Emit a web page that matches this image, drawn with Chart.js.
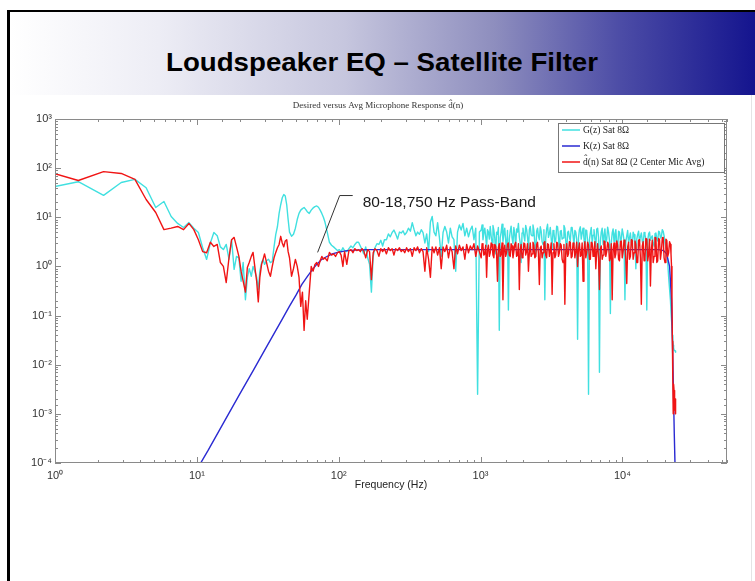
<!DOCTYPE html>
<html><head><meta charset="utf-8">
<script src="https://cdn.jsdelivr.net/npm/chart.js@4.4.0/dist/chart.umd.min.js"></script>
<style>
html,body{margin:0;padding:0;background:#fff;}
#page{position:relative;width:755px;height:581px;overflow:hidden;background:#fff;}
#lb{position:absolute;left:7px;top:10px;width:3px;height:571px;background:#000;}
#tb{position:absolute;left:7px;top:10px;width:748px;height:2px;background:#000;}
#band{position:absolute;left:10px;top:12px;width:745px;height:83px;
 background:linear-gradient(to right,#ffffff 0%,#ededf5 20%,#c6c6de 45%,#8e8ebe 65%,#4c4ca6 82%,#14148e 100%);}
#rl{position:absolute;left:751px;top:95px;width:1px;height:486px;background:#e4e4e4;}
#title{position:absolute;left:10px;top:47px;width:745px;line-height:30px;text-align:center;
 font:bold 26px "Liberation Sans",Arial,sans-serif;color:#000;white-space:nowrap;}
#title span{display:inline-block;transform:scaleX(1.064);}
canvas{position:absolute;left:0;top:0;}
</style></head>
<body><div id="page">
<div id="band"></div><div id="lb"></div><div id="tb"></div><div id="rl"></div>
<div id="title"><span>Loudspeaker EQ – Satellite Filter</span></div>
<canvas id="c" width="755" height="581"></canvas>
</div>
<script>
// ---- data ----
const lowFreq=[0.73,1.46,2.2,2.93,3.66,4.39,5.13,5.86,6.59,7.32,
 8.06,8.79,9.52,10.25,10.99,11.72,12.45,13.18,13.92,14.65,
 15.38,16.11,16.85,17.58,18.31,19.04,19.78,20.5,21.2,22.0,
 22.7,23.4,24.2,24.9,25.6,26.4,27.1,27.8,28.6,29.3,
 30,31,32,33,34,35,36,37,38,39,
 40,41,42,43,44,45,46.5,48,49.5,51,
 52.5,54,55.5,57,58.5,60,62,64,66,68,
 70,72,74,76,78,80,83,86,89,92,
 95,98];
const lowD=[100,56,85,78,59,23,12.5,5.6,6.0,6.5,
 5.6,7.5,5.6,3.5,2.0,1.9,3.1,2.55,2.8,1.2,
 1.0,0.47,1.5,3.5,3.9,2.5,1.6,0.8,0.5,0.30,
 0.95,1.2,1.6,1.93,1.0,0.5,0.19,0.6,1.1,1.39,
 1.8,1.2,0.8,0.63,1.0,1.5,1.93,2.4,2.8,4.1,
 3.0,2.5,3.3,3.5,2.0,1.5,0.63,0.9,1.39,1.0,
 0.6,0.154,0.3,0.05,0.2,0.084,0.3,1.0,0.8,1.1,
 1.2,1.0,1.3,1.6,1.4,1.5,1.3,1.93,1.7,1.8,
 1.6,1.9];
const lowG=[35,53,28,51,59,40,15.8,21,10.4,7.5,
 6.2,7.8,6.0,4.9,2.4,1.39,3.0,4.9,4.2,2.5,
 2.2,2.8,1.4,3.5,0.87,1.6,1.5,0.5,1.2,0.21,
 0.6,0.9,0.63,1.0,0.8,0.6,0.34,0.8,1.2,1.39,
 1.1,1.3,1.4,1.2,1.26,2.5,4.5,6.5,12,18,
 25,29,27,18,9,5,4.1,4.5,6,9,
 12,14,15,15.8,14.5,13,12,14,15.5,16.5,
 17,16,14,12,10,8,5,3.1,2.7,2.5,
 2.3,2.1];
const midFreq=[101,104,107,110,114,118,122,126,130,134,
 138,142,146,150,155,160,165,170,175,180,
 186,192,198,204,210,217,224,231,238,245,
 252,260,268,276,284,292,301,310,320,330,
 340,350,360,371,382,393,405,417,430,443,
 456,470,484,498,513,528,544,560,577,594,
 612,630,649,668,688,709,730,752,775,798,
 822,847,872,898,925,953,981];
const midD=[2.0,1.7,1.0,2.0,1.1,2.1,2.2,1.9,2.3,2.1,
 2.2,2.0,2.3,2.1,1.5,2.2,2.0,0.54,1.9,2.3,
 2.1,1.6,2.3,2.0,2.3,1.8,2.4,2.1,2.3,1.7,
 2.3,2.1,2.4,2.0,2.2,1.9,2.4,2.0,2.3,1.6,
 2.4,2.1,2.5,1.9,2.3,2.0,0.8,2.4,1.4,0.6,
 2.5,1.9,2.5,1.7,2.4,0.9,2.5,2.0,2.7,1.5,
 2.5,2.0,0.9,2.6,1.8,2.7,2.1,2.5,1.4,2.8,
 1.9,2.6,2.2,2.9,1.6,2.6,2.0];
const midG=[2.2,2.0,2.4,2.1,2.0,2.3,2.6,2.4,2.8,3.1,
 3.1,2.6,2.2,1.8,2.5,1.5,1.1,0.3,1.6,2.4,
 2.9,2.8,3.4,2.6,3.5,3.5,4.6,4.0,4.9,5.5,
 4.6,3.6,5.0,4.8,5.3,4.4,4.9,6.0,5.2,7.8,
 5.6,4.2,5.0,4.5,5.6,4.9,3.0,4.6,2.0,8.0,
 10.4,5.0,4.2,7.8,3.8,1.6,4.9,6.5,5.0,3.0,
 6.0,4.0,3.5,0.8,5.0,7.0,5.5,7.5,4.2,6.0,
 4.0,5.5,6.6,3.5,6.0,0.0025,5.0];
const highFreq=[1010,1025,1040,1055,1071,1087,1103,1119,1136,1153,
 1170,1187,1205,1223,1241,1259,1278,1297,1316,1335,
 1355,1375,1396,1417,1438,1459,1481,1503,1525,1548,
 1571,1594,1618,1642,1667,1692,1717,1742,1768,1794,
 1821,1848,1876,1904,1932,1961,1990,2020,2050,2080,
 2111,2143,2175,2207,2240,2273,2307,2341,2376,2412,
 2448,2484,2521,2559,2597,2636,2675,2715,2755,2796,
 2838,2880,2923,2966,3010,3055,3101,3147,3194,3241,
 3289,3338,3388,3439,3490,3542,3594,3648,3702,3757,
 3813,3870,3928,3986,4045,4106,4167,4229,4292,4356,
 4420,4486,4553,4621,4690,4760,4830,4902,4975,5050,
 5125,5201,5278,5357,5437,5518,5600,5684,5768,5854,
 5941,6030,6119,6210,6303,6397,6492,6588,6686,6786,
 6887,6989,7093,7199,7306,7415,7525,7637,7751,7867,
 7984,8103,8223,8346,8470,8596,8724,8854,8986,9120,
 9255,9393,9533,9675,9819,9965,10113,10264,10417,10572,
 10729,10889,11051,11216,11383,11552,11724,11899,12076,12256,
 12438,12623,12811,13002,13196,13393,13592,13794,13999,14208,
 14419,14634,14852,15073,15297,15525,15756,15991,16229,16471,
 16716,16965,17217,17474,17734,17998,18266,18538,18814,19094,
 19378,19667,19960,20258,20558,20860,21175,21490,21810,22000,
 22200,22350,22500,22650,22800,22950,23100,23250,23400,23550,
 23700];
const highD=[1.5,2.9,2.6,1.7,1.8,2.7,0.6,2.2,2.7,1.6,
 1.9,3.0,2.8,1.7,1.5,2.8,2.6,1.8,0.5,2.4,
 2.9,1.6,1.8,3.0,0.21,2.0,2.7,1.6,1.9,2.8,
 3.0,1.7,1.6,2.9,2.6,1.5,2.0,2.8,3.1,1.6,
 1.7,2.9,0.34,2.2,2.8,1.5,1.6,3.0,2.9,1.7,
 2.0,2.9,0.8,1.9,3.0,1.6,1.8,3.1,2.7,1.5,
 1.6,2.8,3.1,1.8,0.43,2.4,2.6,1.5,1.9,3.0,
 3.2,1.7,1.5,2.9,2.8,1.6,2.1,3.0,0.27,1.9,
 2.9,1.5,1.7,3.1,3.0,1.6,1.9,2.9,2.7,1.4,
 1.2,2.8,0.17,2.0,2.9,1.6,1.8,3.2,3.1,1.5,
 1.6,3.0,2.8,1.5,2.0,3.1,1.0,2.2,3.0,1.6,
 1.7,3.0,0.5,2.1,3.2,1.5,1.9,3.1,2.7,1.4,
 1.4,3.1,3.0,1.6,2.1,3.2,0.9,2.0,2.9,1.5,
 0.34,2.3,2.6,1.4,1.7,3.3,3.2,1.6,2.0,3.1,
 2.8,1.3,1.5,2.9,0.21,2.2,3.0,1.5,1.8,3.3,
 2.7,1.4,1.3,3.2,3.3,1.5,2.0,3.4,2.9,1.3,
 0.45,2.5,3.1,1.4,1.6,3.5,3.4,1.4,1.9,3.3,
 2.8,1.2,1.2,3.4,3.5,1.5,0.17,2.6,3.2,1.3,
 1.5,3.7,3.6,1.3,1.8,3.6,0.4,2.2,3.4,1.2,
 1.6,3.9,3.8,1.2,1.3,3.7,3.5,1.4,2.0,3.8,
 3.9,1.5,1.2,3.6,3.4,1.6,1.9,3.2,2.8,1.8,
 1.0,0.2,0.03,0.005,0.001,0.004,0.003,0.0015,0.0012,0.002,
 0.001];
const highG=[5.5,7.0,3.5,4.8,6.0,4.0,2.5,5.6,5.0,3.6,
 6.5,4.2,3.0,6.8,5.5,3.8,1.8,5.0,4.5,6.2,
 0.05,3.8,5.0,7.2,3.2,4.5,6.0,3.4,2.0,5.4,
 0.13,3.6,5.2,6.6,3.8,2.9,6.2,4.6,2.5,5.8,
 5.0,7.5,4.0,3.0,1.2,4.8,6.0,4.2,3.3,6.8,
 5.6,3.9,2.2,5.5,6.5,4.4,4.2,7.0,5.4,3.0,
 1.6,5.2,6.0,4.1,3.5,6.4,5.2,3.2,2.8,5.6,
 0.21,3.8,5.8,7.2,3.9,4.6,6.2,3.7,2.3,5.4,
 5.0,3.1,3.4,6.6,6.4,4.0,2.0,5.2,5.4,3.6,
 3.8,6.8,6.0,3.3,1.8,4.9,5.2,3.9,3.3,6.2,
 6.2,4.2,2.7,5.4,5.0,3.5,0.033,3.8,5.6,6.4,
 3.6,4.8,6.0,3.7,2.2,5.5,5.4,3.2,0.0025,3.5,
 4.8,6.2,3.0,4.3,5.6,3.6,2.5,5.7,6.0,3.9,
 0.007,3.2,5.0,6.0,2.8,4.4,5.8,3.1,3.5,6.3,
 5.0,3.4,0.11,3.0,4.8,5.8,3.2,4.6,5.6,3.0,
 2.2,5.2,5.0,3.3,3.6,5.8,4.6,3.4,0.21,3.2,
 4.2,5.4,3.0,3.8,4.8,3.1,2.4,5.0,4.4,3.3,
 0.9,3.6,4.5,5.2,3.2,4.0,4.8,3.4,2.5,4.9,
 4.4,3.6,0.13,3.3,4.6,5.0,3.4,3.9,4.2,3.1,
 2.6,4.6,4.8,3.6,3.3,5.2,5.0,3.8,4.0,5.6,
 5.2,4.2,3.0,2.4,2.0,1.2,0.6,0.35,0.2,0.12,
 0.08,0.06,0.04,0.03,0.025,0.022,0.02,0.02,0.02,0.019,
 0.018];
const kFreq=[9,12,15,20,25,30,35,40,45,50,55,60,65,70,75,80,90,100,115,130,160,300,1000,10000,18000,19500,20500,21500,22200,22700,23200,23600];
const kMag=[4.4e-5,1.8e-4,5.7e-4,2.5e-3,7.7e-3,0.0195,0.043,0.085,0.155,0.26,0.43,0.62,0.85,1.1,1.35,1.52,1.8,1.95,2.1,2.15,2.2,2.2,2.2,2.2,2.2,2.1,1.8,1.0,0.2,0.01,4e-4,5e-5];
const seriesLabels=['G(z) Sat 8Ω','K(z) Sat 8Ω','d̂(n) Sat 8Ω (2 Center Mic Avg)'];
const plotTitle='Desired versus Avg Microphone Response d̂(n)';
const xTitle='Frequency (Hz)';
const annText='80-18,750 Hz Pass-Band';
const annPath=[[71,1.93],[101.6,27.7],[125.5,27.7]];
const annTextAt=[147.6,20];
const xRange=[1,54600], yRange=[1e-4,1e3];

// ---- build ----
const freq=lowFreq.concat(midFreq,highFreq);
const gMag=lowG.concat(midG,highG);
const dMag=lowD.concat(midD,highD);
const pts=(xs,ys)=>xs.map((x,i)=>({x:x,y:ys[i]}));
const SUP={'-':'⁻','0':'⁰','1':'¹','2':'²','3':'³','4':'⁴','5':'⁵','6':'⁶','7':'⁷','8':'⁸','9':'⁹'};
const isPow=v=>{const e=Math.log10(v);return Math.abs(e-Math.round(e))<1e-6;};
const powLabel=v=>isPow(v)?'10'+String(Math.round(Math.log10(v))).split('').map(c=>SUP[c]).join(''):'';

const deco={
 id:'deco',
 afterDatasetsDraw(chart){
  const {ctx,chartArea:a,scales:{x,y}}=chart;
  ctx.save();
  ctx.strokeStyle='#8a8a8a';ctx.lineWidth=1;
  ctx.strokeRect(a.left+0.5,a.top+0.5,a.right-a.left-1,a.bottom-a.top-1);
  ctx.beginPath();
  x.ticks.forEach(t=>{const p=Math.round(x.getPixelForValue(t.value))+0.5;const L=isPow(t.value)?6:3;
   ctx.moveTo(p,a.bottom);ctx.lineTo(p,a.bottom-L);ctx.moveTo(p,a.top);ctx.lineTo(p,a.top+L);});
  y.ticks.forEach(t=>{const p=Math.round(y.getPixelForValue(t.value))+0.5;const L=isPow(t.value)?6:3;
   ctx.moveTo(a.left,p);ctx.lineTo(a.left+L,p);ctx.moveTo(a.right,p);ctx.lineTo(a.right-L,p);});
  ctx.stroke();
  ctx.restore();
 },
 afterDraw(chart){
  const {ctx,chartArea:a,scales:{x,y}}=chart;
  ctx.save();
  ctx.fillStyle='#333';ctx.font='9px "Liberation Serif",serif';ctx.textAlign='center';ctx.textBaseline='middle';
  ctx.fillText(plotTitle,(a.left+a.right)/2-13,a.top-13);
  ctx.strokeStyle='#333';ctx.lineWidth=1;ctx.beginPath();
  annPath.forEach((p,i)=>{const px=x.getPixelForValue(p[0]),py=y.getPixelForValue(p[1]);i?ctx.lineTo(px,py):ctx.moveTo(px,py);});
  ctx.stroke();
  ctx.fillStyle='#1a1a1a';ctx.font='15.5px "Liberation Sans",Arial,sans-serif';ctx.textAlign='left';
  ctx.fillText(annText,x.getPixelForValue(annTextAt[0]),y.getPixelForValue(annTextAt[1]));
  const lw=166,lh=49,lx=a.right-3-lw,ly=a.top+4;
  ctx.fillStyle='#fff';ctx.fillRect(lx,ly,lw,lh);
  ctx.strokeStyle='#777';ctx.strokeRect(lx+0.5,ly+0.5,lw,lh);
  chart.data.datasets.slice().sort((p,q)=>p.legendIdx-q.legendIdx).forEach((ds,i)=>{
   const yy=ly+7+i*16;
   ctx.strokeStyle=ds.borderColor;ctx.lineWidth=1.5;ctx.beginPath();ctx.moveTo(lx+4,yy);ctx.lineTo(lx+22,yy);ctx.stroke();
   ctx.fillStyle='#222';ctx.font='9.5px "Liberation Serif",serif';ctx.textBaseline='middle';
   ctx.fillText(ds.label,lx+25,yy);
  });
  ctx.restore();
 }
};

new Chart(document.getElementById('c'),{
 type:'line',
 data:{datasets:[
  {label:seriesLabels[2],legendIdx:2,data:pts(freq,dMag),borderColor:'#f01414',borderWidth:1.4,pointRadius:0,order:0,borderJoinStyle:'round'},
  {label:seriesLabels[1],legendIdx:1,data:pts(kFreq,kMag),borderColor:'#2a2ad2',borderWidth:1.4,pointRadius:0,order:1},
  {label:seriesLabels[0],legendIdx:0,data:pts(freq,gMag),borderColor:'#40e0e0',borderWidth:1.4,pointRadius:0,order:2,borderJoinStyle:'round'}
 ]},
 options:{
  responsive:false,animation:false,devicePixelRatio:1,
  layout:{padding:{left:0,right:28,top:119,bottom:88}},
  elements:{line:{tension:0}},
  plugins:{legend:{display:false},tooltip:{enabled:false},title:{display:false}},
  scales:{
   x:{type:'logarithmic',min:xRange[0],max:xRange[1],
    grid:{display:false,drawTicks:false},border:{display:false},
    ticks:{autoSkip:false,maxRotation:0,padding:6,color:'#333',font:{family:'"Liberation Sans",Arial',size:11},callback:v=>powLabel(v)},
    title:{display:true,text:xTitle,color:'#222',font:{family:'"Liberation Sans",Arial',size:10.5},padding:{top:0,bottom:2}},
    afterFit(s){s.height=30;}},
   y:{type:'logarithmic',min:yRange[0],max:yRange[1],
    grid:{display:false,drawTicks:false},border:{display:false},
    ticks:{autoSkip:false,padding:3,color:'#333',font:{family:'"Liberation Sans",Arial',size:11},callback:v=>powLabel(v)},
    afterFit(s){s.width=55;}}
  }
 },
 plugins:[deco]
});
</script>
</body></html>
